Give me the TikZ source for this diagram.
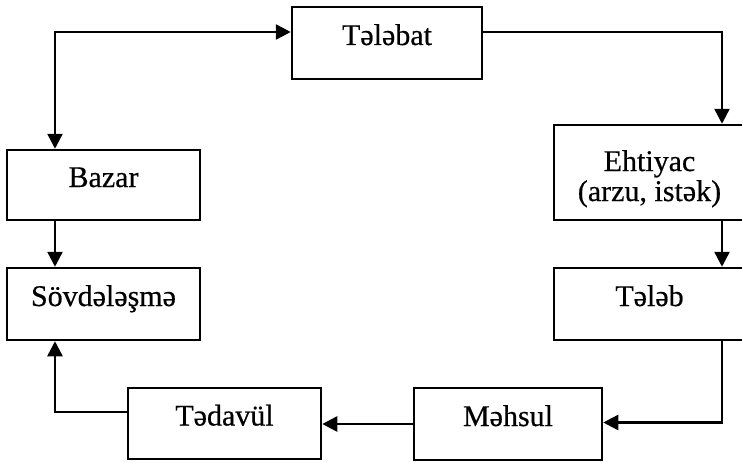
\documentclass[tikz,border=0pt]{standalone}
\usepackage{fontspec}
\setmainfont{Liberation Serif}[BoldFont={Liberation Serif}, BoldFeatures={FakeBold=0.5}]
\usetikzlibrary{arrows.meta}
\begin{document}
\begin{tikzpicture}[x=1pt,y=-1pt,
  >={Triangle[length=15pt,width=15pt]},
  box/.style={draw, line width=2.5pt, inner sep=0pt,
    font=\fontsize{30}{27}\bfseries, text height=14pt, text depth=10pt},
  lbl/.style={inner sep=0pt, anchor=base, font=\fontsize{30}{27}\bfseries},
  link/.style={line width=2.5pt, ->},
  ]
\useasboundingbox (0,0) rectangle (742,463);

% boxes
\node[box, minimum width=190pt, minimum height=72pt] (talabat) at (387,43) {Tələbat};
\node[box, minimum width=193pt, minimum height=70pt] (bazar) at (103.5,185) {Bazar};
\node[box, minimum width=193pt, minimum height=72pt] (sov) at (103.5,304) {Sövdələşmə};
\node[box, minimum width=191pt, minimum height=95pt] (ehtiyac) at (649.5,172.5) {};
\node[lbl] (ehtiyac1) at (649.5,171) {Ehtiyac};
\node[lbl] (ehtiyac2) at (649.5,201) {(arzu, istək)};
\node[box, minimum width=191pt, minimum height=72pt] (talab) at (649.5,304) {Tələb};
\node[box, minimum width=188pt, minimum height=72pt] (mahsul) at (508,424) {Məhsul};
\node[box, minimum width=193pt, minimum height=71pt] (tadavul) at (224.5,423.5) {Tədavül};

% connectors
\draw[link, <->] ([xshift=-48.5pt]bazar.north) |- ([yshift=11pt]talabat.west);
\draw[link] ([yshift=11pt]talabat.east) -| ([xshift=72.5pt]ehtiyac.north);
\draw[link] ([xshift=72.5pt]ehtiyac.south) -- ([xshift=72.5pt]talab.north);
\draw[link] ([xshift=72.5pt]talab.south) |- ([yshift=1.5pt]mahsul.east);
\draw[link] (mahsul.west) -- (mahsul.west -| tadavul.east);
\draw[link] ([yshift=11.5pt]tadavul.west) -| ([xshift=-48.5pt]sov.south);
\draw[link] ([xshift=-48.5pt]bazar.south) -- ([xshift=-48.5pt]sov.north);
\end{tikzpicture}
\end{document}
